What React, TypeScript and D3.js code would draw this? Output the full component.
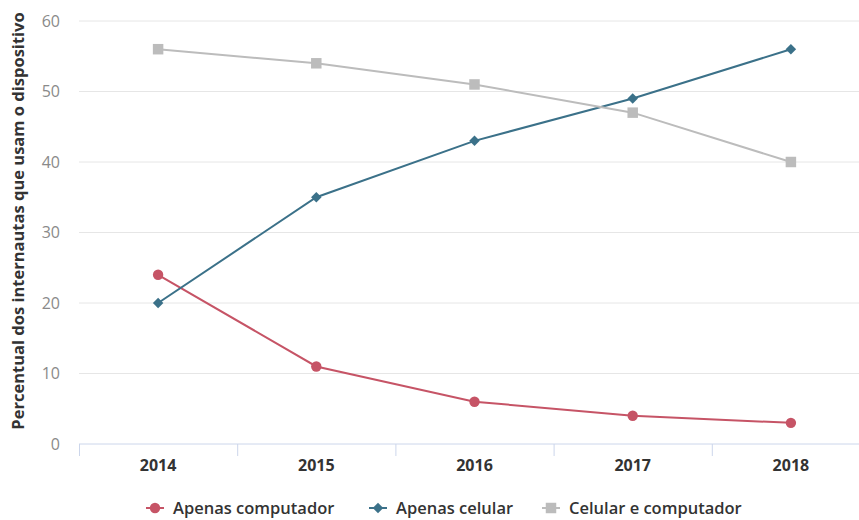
import React from "react";
import * as d3 from "d3";

const years = ["2014", "2015", "2016", "2017", "2018"];
const apenasComputador = [24, 11, 6, 4, 3];
const apenasCelular = [20, 35, 43, 49, 56];
const celularEComputador = [56, 54, 51, 47, 40];
const yTicks = [0, 10, 20, 30, 40, 50, 60];
const seriesNames = ["Apenas computador", "Apenas celular", "Celular e computador"];

const W = 859;
const H = 520;
const FONT = "'Open Sans', sans-serif";

const squareDiamond: d3.SymbolType = {
  draw(context, size) {
    const r = Math.sqrt(size / 2);
    context.moveTo(0, -r);
    context.lineTo(r, 0);
    context.lineTo(0, r);
    context.lineTo(-r, 0);
    context.closePath();
  },
};

export default function App() {
  const x = d3.scaleBand<string>().domain(years).range([79, 870]);
  const y = d3.scaleLinear().domain([0, 60]).range([444, 21]);
  const cx = (d: string) => (x(d) as number) + x.bandwidth() / 2;

  const series = [
    { name: seriesNames[0], values: apenasComputador, color: "#c65466", symbol: d3.symbolCircle, size: 85 },
    { name: seriesNames[1], values: apenasCelular, color: "#3b7189", symbol: squareDiamond, size: 55 },
    { name: seriesNames[2], values: celularEComputador, color: "#bcbcbc", symbol: d3.symbolSquare, size: 110 },
  ];

  const line = d3
    .line<number>()
    .x((_, i) => cx(years[i]))
    .y((v) => y(v));

  const boundaries = [...years.map((d) => x(d) as number), 870];
  const legendX = [155, 378, 551];

  return (
    <svg width={W} height={H} style={{ position: "absolute", left: 0, top: 0, background: "#fff" }}>
      {yTicks.map((t) => (
        <g key={t}>
          {t > 0 && <line x1={79} x2={859} y1={y(t)} y2={y(t)} stroke="#e6e6e6" strokeWidth={1} />}
          <text x={60} y={y(t)} dy="0.35em" textAnchor="end" fontFamily={FONT} fontSize={16} fill="#8a8a8a">
            {t}
          </text>
        </g>
      ))}
      <line x1={79} x2={859} y1={444} y2={444} stroke="#ccd6eb" strokeWidth={1} />
      {boundaries.map((b, i) => (
        <line key={i} x1={b + 0.5} x2={b + 0.5} y1={444} y2={456} stroke="#ccd6eb" strokeWidth={1} />
      ))}
      {years.map((d) => (
        <text key={d} x={cx(d)} y={471} textAnchor="middle" fontFamily={FONT} fontSize={16} fontWeight={700} fill="#333">
          {d}
        </text>
      ))}
      <text
        transform={`translate(24,221) rotate(-90)`}
        textAnchor="middle"
        fontFamily={FONT}
        fontSize={16.5}
        fontWeight={700}
        fill="#333"
      >
        Percentual dos internautas que usam o dispositivo
      </text>
      {series.map((s) => (
        <g key={s.name}>
          <path d={line(s.values) as string} fill="none" stroke={s.color} strokeWidth={2} />
          {s.values.map((v, i) => (
            <path
              key={i}
              d={d3.symbol().type(s.symbol).size(s.size)() as string}
              transform={`translate(${cx(years[i])},${y(v)})`}
              fill={s.color}
            />
          ))}
        </g>
      ))}
      {series.map((s, i) => (
        <g key={s.name} transform={`translate(${legendX[i]},508)`}>
          <line x1={-9} x2={9} y1={0} y2={0} stroke={s.color} strokeWidth={2} />
          <path d={d3.symbol().type(s.symbol).size(s.size)() as string} fill={s.color} />
          <text x={18} y={0} dy="0.35em" fontFamily={FONT} fontSize={16.5} fontWeight={600} fill="#333">
            {s.name}
          </text>
        </g>
      ))}
    </svg>
  );
}
